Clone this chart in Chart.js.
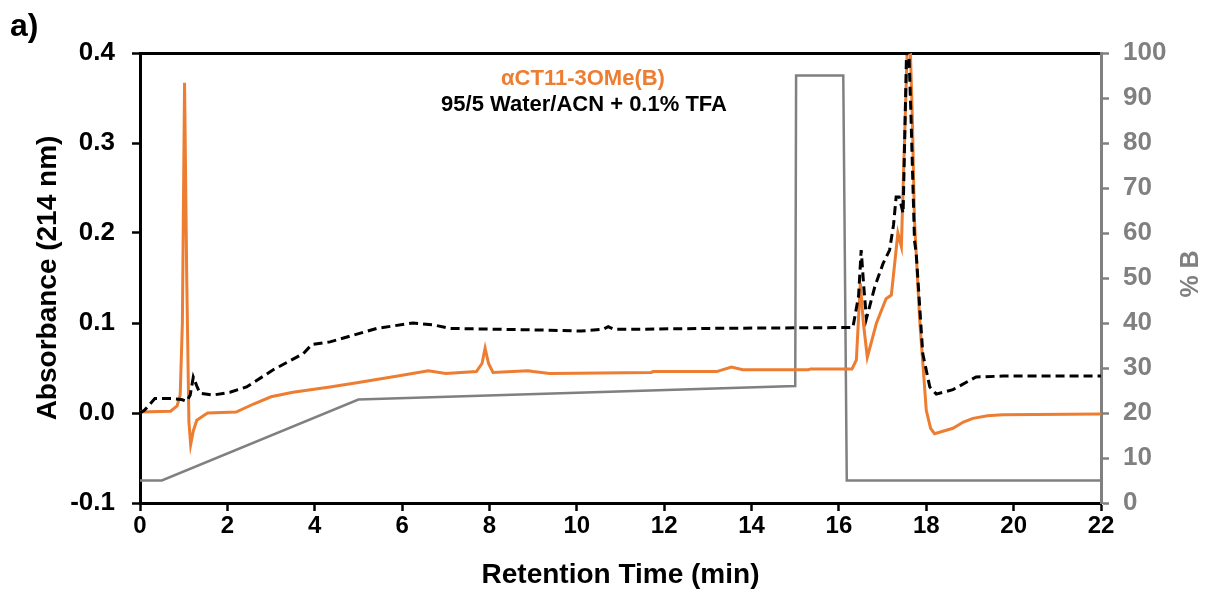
<!DOCTYPE html>
<html>
<head>
<meta charset="utf-8">
<script src="https://cdn.jsdelivr.net/npm/chart.js@4"></script>
<style>
  body { margin: 0; background: #fff; }
  #chart1 { display: block; }
</style>
</head>
<body>
<canvas id="chart1" width="1206" height="592"></canvas>
<script>
// retention time (min) / absorbance for the sample trace
const sampleTime = [0, 0.7, 0.85, 0.92, 0.97, 1.02, 1.07, 1.12, 1.16, 1.22, 1.3, 1.45, 1.55, 2.2, 2.6, 3.0, 3.5, 4.35, 5.0, 5.9, 6.6, 7.0, 7.7, 7.83, 7.9, 7.98, 8.08, 8.88, 9.0, 9.38, 11.7, 11.75, 13.2, 13.54, 13.8, 15.3, 15.35, 16.3, 16.4, 16.49, 16.56, 16.65, 16.75, 16.86, 17.08, 17.2, 17.35, 17.43, 17.5, 17.6, 17.68, 17.73, 17.85, 18.0, 18.1, 18.19, 18.61, 18.85, 19.07, 19.4, 19.75, 22];
const sampleAbs = [0.001, 0.002, 0.008, 0.02, 0.1, 0.367, 0.15, -0.01, -0.035, -0.02, -0.008, -0.003, 0.0, 0.001, 0.01, 0.018, 0.023, 0.029, 0.034, 0.041, 0.047, 0.044, 0.046, 0.055, 0.072, 0.055, 0.045, 0.047, 0.046, 0.044, 0.045, 0.046, 0.046, 0.051, 0.048, 0.048, 0.049, 0.049, 0.059, 0.144, 0.1, 0.062, 0.08, 0.1, 0.127, 0.131, 0.2, 0.185, 0.3, 0.46, 0.33, 0.214, 0.103, 0.003, -0.017, -0.023, -0.017, -0.01, -0.006, -0.003, -0.002, -0.001];

// blank (dashed) trace
const blankTime = [0, 0.1, 0.34, 0.76, 0.95, 1.07, 1.15, 1.22, 1.3, 1.37, 1.68, 2.06, 2.44, 3.05, 3.74, 3.93, 4.35, 5.42, 6.25, 6.71, 7.09, 8.24, 9.38, 10.1, 10.6, 10.72, 10.85, 11.3, 12.97, 16.32, 16.45, 16.51, 16.57, 16.63, 16.82, 17.01, 17.16, 17.25, 17.31, 17.38, 17.47, 17.57, 17.65, 17.73, 17.77, 17.92, 18.08, 18.23, 18.61, 19.14, 19.75, 22];
const blankAbs = [0.0, 0.003, 0.016, 0.016, 0.015, 0.013, 0.02, 0.04, 0.03, 0.022, 0.02, 0.023, 0.029, 0.048, 0.066, 0.076, 0.079, 0.094, 0.1, 0.098, 0.094, 0.093, 0.092, 0.091, 0.093, 0.096, 0.093, 0.093, 0.094, 0.095, 0.13, 0.181, 0.14, 0.105, 0.14, 0.166, 0.181, 0.209, 0.24, 0.24, 0.222, 0.45, 0.33, 0.192, 0.177, 0.066, 0.029, 0.021, 0.026, 0.04, 0.041, 0.041];

// gradient program, % B
const gradTime = [0, 0.5, 5, 15, 15.02, 16.1, 16.18, 22];
const gradB = [5, 5, 23, 26, 95, 95, 5, 5];

const toPoints = (xs, ys) => xs.map((x, i) => ({ x: x, y: ys[i] }));

const orange = '#ED7D31';
const grey = '#808080';
const font = '"Liberation Sans", Arial, sans-serif';

// panel letter, sample caption and the right axis title (reads bottom to top)
const textPlugin = {
  id: 'textPlugin',
  afterDraw(chart) {
    const ctx = chart.ctx;
    const area = chart.chartArea;
    ctx.save();
    ctx.textBaseline = 'alphabetic';
    ctx.textAlign = 'left';
    ctx.fillStyle = '#000';
    ctx.font = 'bold 32px ' + font;
    ctx.fillText('a)', 10, 36);
    ctx.textAlign = 'center';
    ctx.font = 'bold 22px ' + font;
    ctx.fillStyle = orange;
    ctx.fillText('αCT11-3OMe(B)', 583, 85);
    ctx.fillStyle = '#000';
    ctx.fillText('95/5 Water/ACN + 0.1% TFA', 584, 111);
    ctx.translate(1191, (area.top + area.bottom) / 2 - 4);
    ctx.rotate(-Math.PI / 2);
    ctx.textBaseline = 'middle';
    ctx.fillStyle = grey;
    ctx.font = 'bold 25px ' + font;
    ctx.fillText('% B', 0, 0);
    ctx.restore();
  }
};

const ctx1 = document.getElementById('chart1');
const chart = new Chart(ctx1, {
  type: 'line',
  data: {
    datasets: [{
      label: 'Blank',
      data: toPoints(blankTime, blankAbs),
      borderColor: '#000',
      borderWidth: 3,
      borderDash: [9, 5],
      yAxisID: 'y',
      order: 0
    },
    {
      label: 'Sample',
      data: toPoints(sampleTime, sampleAbs),
      borderColor: orange,
      borderWidth: 3,
      yAxisID: 'y',
      order: 1
    },
    {
      label: '% B',
      data: toPoints(gradTime, gradB),
      borderColor: grey,
      borderWidth: 2.5,
      yAxisID: 'y2',
      order: 2
    }]
  },
  options: {
    responsive: false,
    animation: false,
    devicePixelRatio: 1,
    layout: { padding: 0 },
    elements: { point: { radius: 0 }, line: { tension: 0 } },
    plugins: { legend: { display: false }, tooltip: { enabled: false } },
    scales: {
      x: {
        type: 'linear', position: 'bottom', min: 0, max: 22,
        afterFit: s => { s.height = 89; },
        ticks: { stepSize: 2, color: '#000', padding: 1, font: { family: font, size: 24, weight: 'bold' } },
        grid: { drawOnChartArea: false, tickLength: 8, tickColor: '#000', tickWidth: 2.5 },
        border: { color: '#000', width: 3 },
        title: { display: true, text: 'Retention Time (min)', color: '#000', padding: { top: 0, bottom: 0 }, font: { family: font, size: 28, weight: 'bold' } }
      },
      xTop: {
        type: 'linear', position: 'top', min: 0, max: 22,
        afterFit: s => { s.height = 53; },
        ticks: { display: false },
        grid: { display: false },
        border: { color: '#000', width: 3 }
      },
      y: {
        position: 'left', min: -0.1, max: 0.4,
        afterFit: s => { s.width = 140; },
        ticks: { stepSize: 0.1, color: '#000', padding: 17, callback: v => v.toFixed(1), font: { family: font, size: 26, weight: 'bold' } },
        grid: { drawOnChartArea: false, tickLength: 8, tickColor: '#000', tickWidth: 2.5 },
        border: { color: '#000', width: 3 },
        title: { display: true, text: 'Absorbance (214 nm)', color: '#000', padding: { top: 31, bottom: 0 }, font: { family: font, size: 28, weight: 'bold' } }
      },
      y2: {
        position: 'right', min: 0, max: 100,
        afterFit: s => { s.width = 105; },
        ticks: { stepSize: 10, color: grey, padding: 14, font: { family: font, size: 26, weight: 'bold' } },
        grid: { drawOnChartArea: false, tickLength: 8, tickColor: grey, tickWidth: 2.5 },
        border: { color: grey, width: 3 }
      }
    }
  },
  plugins: [textPlugin]
});
</script>
</body>
</html>
